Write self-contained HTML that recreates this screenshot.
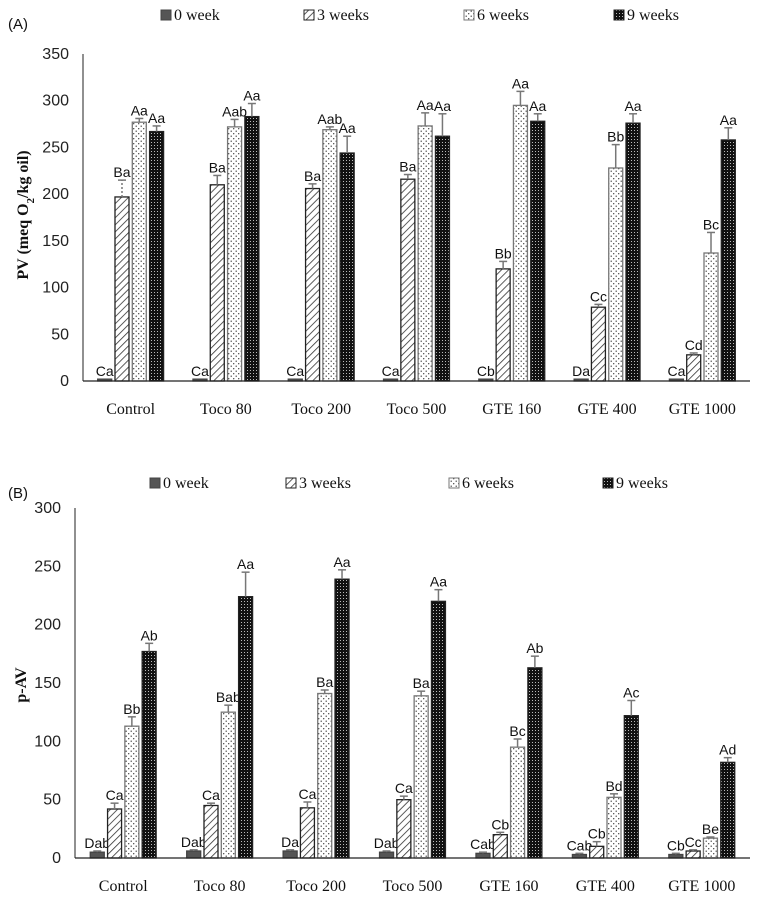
<!DOCTYPE html>
<html><head><meta charset="utf-8"><style>
html,body{margin:0;padding:0;background:#fff;}
svg{display:block;}
.tk{font-family:"Liberation Sans",sans-serif;font-size:16px;fill:#222;}
.cat{font-family:"Liberation Serif",serif;font-size:16px;fill:#111;}
.lab{font-family:"Liberation Sans",sans-serif;font-size:14px;fill:#111;}
.leg{font-family:"Liberation Serif",serif;font-size:16px;fill:#111;}
</style></head><body>
<svg id="chart" width="759" height="899" viewBox="0 0 759 899">
<defs>
<pattern id="p3" width="5" height="5" patternUnits="userSpaceOnUse" patternTransform="rotate(45)"><rect width="5" height="5" fill="#fff"/><line x1="0" y1="0" x2="0" y2="5" stroke="#333" stroke-width="1.6"/></pattern>
<pattern id="p6" width="5" height="5" patternUnits="userSpaceOnUse"><rect width="5" height="5" fill="#fff"/><circle cx="1.2" cy="1.2" r="0.7" fill="#444"/><circle cx="3.7" cy="3.7" r="0.7" fill="#444"/></pattern>
<pattern id="p9" width="3" height="3" patternUnits="userSpaceOnUse"><rect width="3" height="3" fill="#111"/><rect x="1" y="1" width="1" height="1" fill="#bbb"/></pattern>
</defs>
<text x="8" y="29" font-family="Liberation Sans" font-size="15" fill="#111">(A)</text>
<text x="8" y="498" font-family="Liberation Sans" font-size="15" fill="#111">(B)</text>
</svg>
<script>
const categories=["Control","Toco 80","Toco 200","Toco 500","GTE 160","GTE 400","GTE 1000"];
const seriesNames=["0 week","3 weeks","6 weeks","9 weeks"];
const pvW0=[2,2,2,2,2,2,2];
const pvW3=[197,210,206,216,120,79,28];
const pvW6=[277,272,269,273,295,228,137];
const pvW9=[267,283,244,262,278,276,258];
const pvE0=[0,0,0,0,0,0,0];
const pvE3=[18,10,5,5,8,3,2];
const pvE6=[4,8,3,14,15,25,22];
const pvE9=[6,14,18,24,8,10,13];
const pvL0=["Ca","Ca","Ca","Ca","Cb","Da","Ca"];
const pvL3=["Ba","Ba","Ba","Ba","Bb","Cc","Cd"];
const pvL6=["Aa","Aab","Aab","Aa","Aa","Bb","Bc"];
const pvL9=["Aa","Aa","Aa","Aa","Aa","Aa","Aa"];
const pvTicks=[0,50,100,150,200,250,300,350];
const avW0=[5,6,6,5,4,3,3];
const avW3=[42,45,43,50,20,10,6];
const avW6=[113,125,141,139,95,52,17];
const avW9=[177,224,239,220,163,122,82];
const avE0=[1,1,1,1,1,1,1];
const avE3=[5,2,5,3,2,4,1];
const avE6=[8,6,3,4,7,3,1];
const avE9=[7,21,8,10,10,13,4];
const avL0=["Dab","Dab","Da","Dab","Cab","Cab","Cb"];
const avL3=["Ca","Ca","Ca","Ca","Cb","Cb","Cc"];
const avL6=["Bb","Bab","Ba","Ba","Bc","Bd","Be"];
const avL9=["Ab","Aa","Aa","Aa","Ab","Ac","Ad"];
const avTicks=[0,50,100,150,200,250,300];

const NS="http://www.w3.org/2000/svg";
const svg=document.getElementById('chart');
function mk(tag,attrs,parent){const e=document.createElementNS(NS,tag);for(const k in attrs)e.setAttribute(k,attrs[k]);(parent||svg).appendChild(e);return e;}
const fills=["#555","url(#p3)","url(#p6)","url(#p9)"];
const strokes=["#444","#222","#777","#222"];

function panel(p){
  const g=mk('g',{});
  
  
  const y=v=>p.y0-(v/p.max)*(p.y0-p.yTop);
  const gw=(p.x1-p.x0)/categories.length;
  const cx=i=>p.x0+gw*(i+0.5);
  const bw=14,gap=3.3;
  p.ticks.forEach(t=>{
    const tx=mk('text',{x:p.x0-14,y:y(t)+5,'text-anchor':'end',class:'tk'},g);
    
    
    tx.textContent=t;
  });
  const ax=mk('line',{x1:p.x0,y1:p.yTop,x2:p.x0,y2:p.y0,stroke:'#222','stroke-width':1},g);
  
  
  categories.forEach((c,i)=>{
    p.series.forEach((s,j)=>{
      const bx=cx(i)-(2*bw+1.5*gap)+j*(bw+gap);
      const v=s[i],by=y(v);
      const r=mk('rect',{x:bx,y:by,width:bw,height:p.y0-by,fill:fills[j],stroke:strokes[j],'stroke-width':1.3},g);
      
      
      const e=p.errs[j][i];
      let top=by;
      if(e>0){
        const ey=y(v+e);top=ey;
        const dash=(p.dotted&&i===0&&j===1)?'2,2':'none';
        const el=mk('line',{x1:bx+bw/2,y1:by,x2:bx+bw/2,y2:ey,stroke:'#777','stroke-width':1.5,'stroke-dasharray':dash},g);
        
        
        const ec=mk('line',{x1:bx+bw/2-4,y1:ey,x2:bx+bw/2+4,y2:ey,stroke:'#777','stroke-width':1.5},g);
        
        
      }
      const lt=mk('text',{x:bx+bw/2,y:top-3,'text-anchor':'middle',class:'lab'},g);
      
      
      lt.textContent=p.labels[j][i];
    });
    const ct=mk('text',{x:cx(i),y:p.catY,'text-anchor':'middle',class:'cat'},g);
    
    
    ct.textContent=c;
  });
  const bl=mk('line',{x1:p.x0,y1:p.y0,x2:p.x1,y2:p.y0,stroke:'#222','stroke-width':1.2},g);
  
  
  seriesNames.forEach((s,j)=>{
    const lx=p.legX[j];
    const sq=mk('rect',{x:lx,y:p.legY-10,width:10,height:10,fill:fills[j],stroke:strokes[j],'stroke-width':1},g);
    
    
    const lt=mk('text',{x:lx+13,y:p.legY,class:'leg'},g);
    
    
    lt.textContent=s;
  });
  const yt=mk('text',{x:0,y:0,transform:`translate(${p.ylx},${p.yly}) rotate(-90)`,'text-anchor':'middle','font-family':'Liberation Serif','font-size':'16','font-weight':'bold',fill:'#111'},g);
  
  
  yt.innerHTML=p.ytitle;
}
panel({name:'panel-a-pv',x0:83,x1:750,y0:381,yTop:54,max:350,ticks:pvTicks,series:[pvW0,pvW3,pvW6,pvW9],errs:[pvE0,pvE3,pvE6,pvE9],labels:[pvL0,pvL3,pvL6,pvL9],catY:414,legX:[161,304,464,614],legY:20,dotted:true,ylx:28,yly:215,ytitle:'PV (meq O<tspan baseline-shift="sub" font-size="11">2</tspan>/kg oil)'});
panel({name:'panel-b-pav',x0:75,x1:750,y0:858,yTop:508,max:300,ticks:avTicks,series:[avW0,avW3,avW6,avW9],errs:[avE0,avE3,avE6,avE9],labels:[avL0,avL3,avL6,avL9],catY:891,legX:[150,286,449,603],legY:488,dotted:false,ylx:26,yly:685,ytitle:'p-AV'});
</script>
</body></html>
